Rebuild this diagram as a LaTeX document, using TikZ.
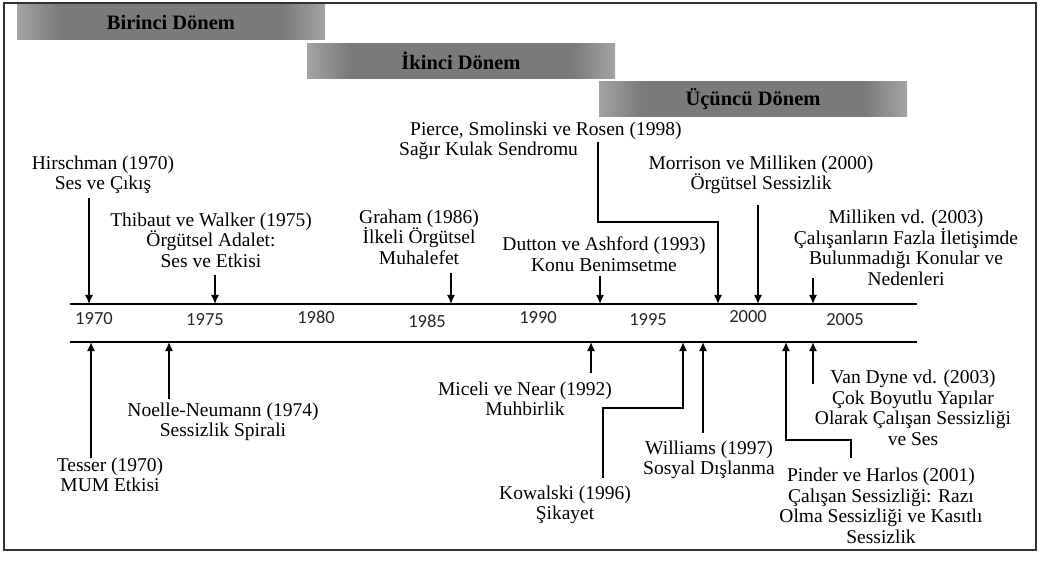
\documentclass[tikz,border=0pt]{standalone}
\usepackage{fontspec}
\setmainfont{Liberation Serif}
\newfontfamily\yearfont{Carlito}
\usetikzlibrary{arrows.meta}
\definecolor{barlight}{HTML}{DADADA}
\definecolor{bardark}{HTML}{7A7A7A}
\pgfdeclarehorizontalshading{periodshade}{100bp}{color(0bp)=(barlight); color(16bp)=(barlight); color(32bp)=(bardark); color(68bp)=(bardark); color(84bp)=(barlight); color(100bp)=(barlight)}
\tikzstyle{period} = [rectangle, shading=periodshade, minimum width=308pt, minimum height=35pt, inner sep=0pt, font=\fontsize{20.5}{22}\selectfont\bfseries]
\tikzstyle{event} = [align=center, inner sep=0pt, font=\fontsize{19.5}{20.5}\selectfont]
\tikzstyle{year} = [inner sep=0pt, text=black!85, font=\yearfont\fontsize{18.5}{20}\selectfont]
\tikzstyle{rail} = [line width=2.4pt]
\tikzstyle{arrow} = [line width=1.5pt,-{Latex[length=9pt,width=8pt]}]

\begin{document}
\begin{tikzpicture}[x=1pt,y=-1pt]
  \useasboundingbox (0,0) rectangle (1044,561);
  \draw [line width=2pt, black!80] (4,3) rectangle (1036,550);

  % periods
  \node (birinci) [period] at (171,22) {Birinci Dönem};
  \node (ikinci) [period] at (461,61) {İkinci Dönem};
  \node (ucuncu) [period] at (753,99) {Üçüncü Dönem};

  % time line
  \coordinate (railTopL) at (70,304);
  \coordinate (railTopR) at (917,304);
  \coordinate (railBotL) at (70,342);
  \coordinate (railBotR) at (917,342);
  \draw [rail] (railTopL) -- (railTopR);
  \draw [rail] (railBotL) -- (railBotR);

  \node (y1970) [year] at (94,319) {1970};
  \node (y1975) [year] at (205,320) {1975};
  \node (y1980) [year] at (316,317) {1980};
  \node (y1985) [year] at (427,321) {1985};
  \node (y1990) [year] at (538,318) {1990};
  \node (y1995) [year] at (648,320) {1995};
  \node (y2000) [year] at (748,317) {2000};
  \node (y2005) [year] at (845,320) {2005};

  % above the line
  \node (hirschman) [event] at (103,175) {Hirschman (1970)\\Ses ve Çıkış};
  \node (thibaut) [event] at (211,240) {Thibaut ve Walker (1975)\\Örgütsel Adalet:\\Ses ve Etkisi};
  \node (graham) [event] at (419,237) {Graham (1986)\\İlkeli Örgütsel\\Muhalefet};
  \node (dutton) [event] at (604,254) {Dutton ve Ashford (1993)\\Konu Benimsetme};
  \node (pierce) [event, align=left, anchor=west] at (399,141) {\hspace*{11pt}Pierce, Smolinski ve Rosen (1998)\\Sağır Kulak Sendromu};
  \node (morrison) [event] at (761,175) {Morrison ve Milliken (2000)\\Örgütsel Sessizlik};
  \node (milliken) [event] at (906,248) {Milliken vd. (2003)\\Çalışanların Fazla İletişimde\\Bulunmadığı Konular ve\\Nedenleri};

  \coordinate (hirschmanS) at (89,198);   \coordinate (hirschmanE) at (89,304);
  \coordinate (thibautS) at (215,275);    \coordinate (thibautE) at (215,304);
  \coordinate (grahamS) at (451,273);     \coordinate (grahamE) at (451,304);
  \coordinate (duttonS) at (600,276);     \coordinate (duttonE) at (600,304);
  \coordinate (pierceS) at (598,142);     \coordinate (pierceE) at (718,304);
  \coordinate (morrisonS) at (758,205);   \coordinate (morrisonE) at (758,304);
  \coordinate (millikenS) at (813,278);   \coordinate (millikenE) at (813,304);

  \draw [arrow] (hirschmanS) -- (hirschmanE);
  \draw [arrow] (thibautS) -- (thibautE);
  \draw [arrow] (grahamS) -- (grahamE);
  \draw [arrow] (duttonS) -- (duttonE);
  \draw [arrow] (pierceS) -- (598,222) -- (718,222) -- (pierceE);
  \draw [arrow] (morrisonS) -- (morrisonE);
  \draw [arrow] (millikenS) -- (millikenE);

  % below the line
  \node (tesser) [event] at (110,475) {Tesser (1970)\\MUM Etkisi};
  \node (noelle) [event] at (223,422) {Noelle-Neumann (1974)\\Sessizlik Spirali};
  \node (miceli) [event] at (525,399) {Miceli ve Near (1992)\\Muhbirlik};
  \node (kowalski) [event] at (565,505) {Kowalski (1996)\\Şikayet};
  \node (williams) [event] at (709,460) {Williams (1997)\\Sosyal Dışlanma};
  \node (pinder) [event] at (881,506) {Pinder ve Harlos (2001)\\Çalışan Sessizliği: Razı\\Olma Sessizliği ve Kasıtlı\\Sessizlik};
  \node (vandyne) [event] at (913,408) {Van Dyne vd. (2003)\\Çok Boyutlu Yapılar\\Olarak Çalışan Sessizliği\\ve Ses};

  \coordinate (tesserS) at (91,458);      \coordinate (tesserE) at (91,342);
  \coordinate (noelleS) at (169,399);     \coordinate (noelleE) at (169,342);
  \coordinate (miceliS) at (591,373);     \coordinate (miceliE) at (591,342);
  \coordinate (kowalskiS) at (603,478);   \coordinate (kowalskiE) at (683,342);
  \coordinate (williamsS) at (703,433);   \coordinate (williamsE) at (703,342);
  \coordinate (pinderS) at (851,458);     \coordinate (pinderE) at (786,342);
  \coordinate (vandyneS) at (813,384);    \coordinate (vandyneE) at (813,342);

  \draw [arrow] (tesserS) -- (tesserE);
  \draw [arrow] (noelleS) -- (noelleE);
  \draw [arrow] (miceliS) -- (miceliE);
  \draw [arrow] (kowalskiS) -- (603,408) -- (683,408) -- (kowalskiE);
  \draw [arrow] (williamsS) -- (williamsE);
  \draw [arrow] (pinderS) -- (851,440) -- (786,440) -- (pinderE);
  \draw [arrow] (vandyneS) -- (vandyneE);
\end{tikzpicture}
\end{document}
